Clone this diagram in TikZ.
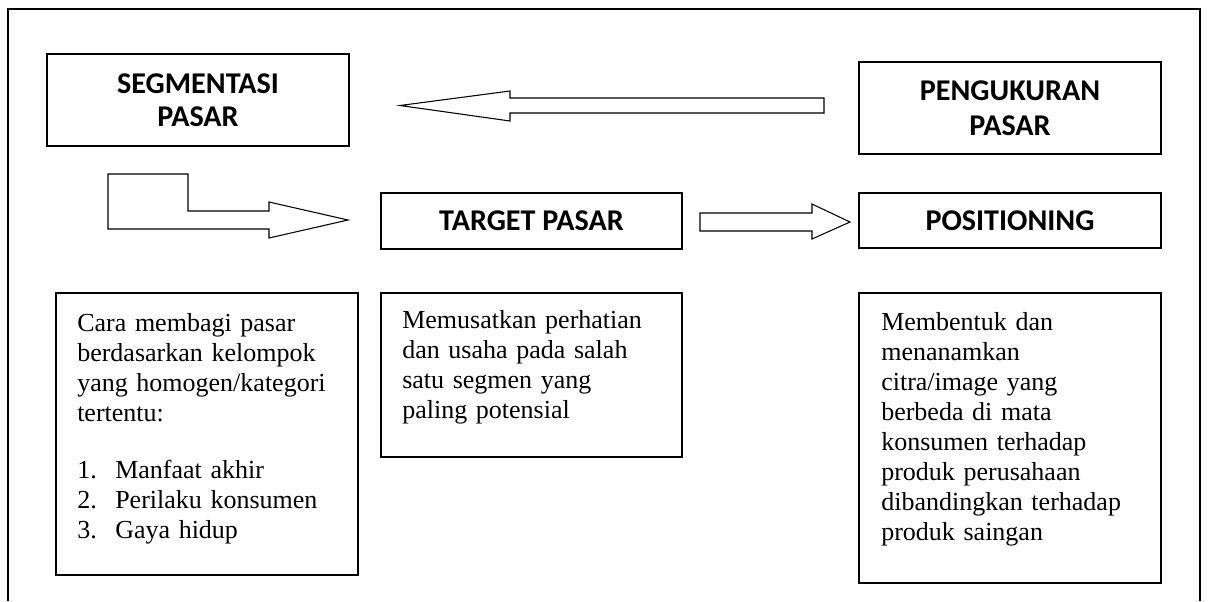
\documentclass[tikz,border=0pt]{standalone}
\usepackage{fontspec}
\setmainfont{Liberation Serif}
\newfontfamily\headfont{Carlito}
\begin{document}
\begin{tikzpicture}[x=0.75pt,y=-0.75pt,
  headbox/.style={draw,line width=1pt,inner sep=0pt,align=center,
    font=\headfont\bfseries\fontsize{22.6}{25}\selectfont},
  descbox/.style={draw,line width=1pt,inner sep=0pt,minimum width=226.5pt},
  desctext/.style={inner sep=0pt,anchor=base west,align=left,text width=205pt,
    font=\fontsize{19.5}{22.5}\selectfont},
  blockarrow/.style={draw,line width=0.8pt,fill=white,line join=miter}]
\useasboundingbox (0,0) rectangle (1209,601);
% outer frame
\draw[line width=0.8pt] (8,601) -- (8,9) -- (1200,9) -- (1200,601);

% heading boxes
\node[headbox,minimum width=226.5pt,minimum height=69pt] (seg) at (198,100) {SEGMENTASI\\PASAR};
\node[headbox,minimum width=226.5pt,minimum height=69pt] (peng) at (1010,108) {PENGUKURAN\\[1.5pt]PASAR};
\node[headbox,minimum width=225.75pt,minimum height=42pt] (target) at (531.5,221) {TARGET PASAR};
\node[headbox,minimum width=226.5pt,minimum height=41.25pt] (pos) at (1010,220.5) {POSITIONING};

% description boxes
\node[descbox,minimum height=211.5pt] (segdesc) at (207,434) {};
\node[descbox,minimum width=225.75pt,minimum height=123pt] (targetdesc) at (531.5,375) {};
\node[descbox,minimum height=217.5pt] (posdesc) at (1010,438) {};

\node[desctext] (segtxt) at (77,331) {Cara membagi pasar\\berdasarkan kelompok\\yang homogen/kategori\\tertentu:\\[20.25pt]
  \makebox[28.5pt][l]{1.}Manfaat akhir\\\makebox[28.5pt][l]{2.}Perilaku konsumen\\\makebox[28.5pt][l]{3.}Gaya hidup};
\node[desctext] (targettxt) at (402,328) {Memusatkan perhatian\\dan usaha pada salah\\satu segmen yang\\paling potensial};
\node[desctext] (postxt) at (881,330) {Membentuk dan\\menanamkan\\citra/image yang\\berbeda di mata\\konsumen terhadap\\produk perusahaan\\dibandingkan terhadap\\produk saingan};

% block arrows between the boxes
\draw[blockarrow] (824,98) -- (510,98) -- (510,91) -- (400,105.5) -- (510,121) -- (510,113) -- (824,113) -- cycle;
\draw[blockarrow] (108,174) -- (188,174) -- (188,211) -- (269,211) -- (269,202) -- (348,220) -- (269,238) -- (269,229) -- (108,229) -- cycle;
\draw[blockarrow] (700,213) -- (812,213) -- (812,204) -- (850,222) -- (812,239) -- (812,231) -- (700,231) -- cycle;
\end{tikzpicture}
\end{document}
